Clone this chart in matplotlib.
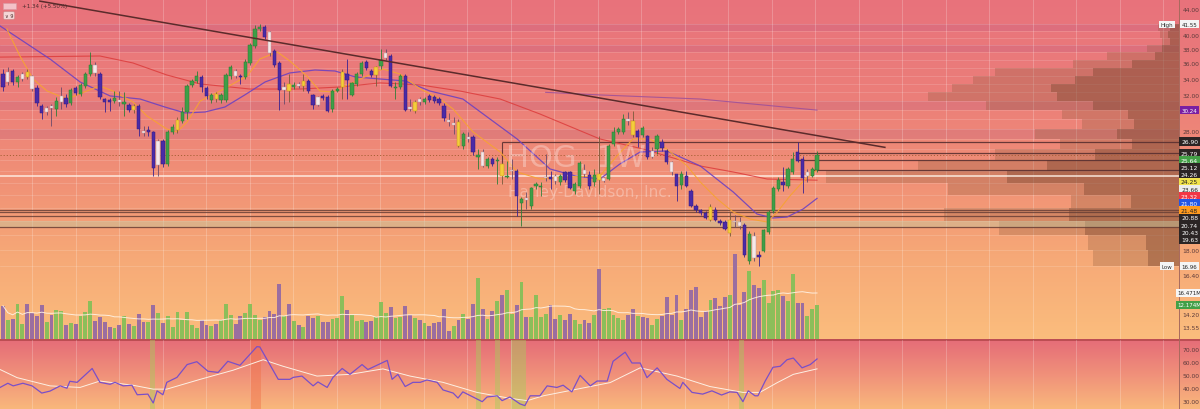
import numpy as np
import pandas as pd
import matplotlib
matplotlib.use("Agg")
import matplotlib.pyplot as plt
from matplotlib.colors import LinearSegmentedColormap
from matplotlib.patches import Rectangle
from matplotlib.ticker import FixedLocator, FormatStrFormatter, NullLocator

# HOG weekly candles, oldest first
opens = [34.58, 33.57, 34.96, 33.57, 33.94, 34.84, 34.32, 32.82, 30.71, 30.03,
         30.71, 30.36, 31.17, 31.63, 31.05, 32.82, 32.10, 33.07, 34.58, 35.75,
         34.58, 31.51, 31.40, 31.28, 31.40, 30.94, 30.82, 30.25, 30.71, 27.99,
         28.09, 27.89, 24.67, 26.97, 24.76, 27.89, 28.09, 29.05, 30.03, 33.20,
         33.69, 34.20, 32.82, 31.40, 32.10, 31.40, 31.40, 34.32, 34.96, 34.32,
         34.20, 36.02, 38.36, 40.85, 41.16, 40.40, 37.65, 36.02, 32.58, 33.32,
         32.95, 33.32, 33.07, 33.69, 31.99, 30.82, 31.87, 31.75, 30.36, 32.46,
         32.95, 34.58, 31.99, 33.32, 34.58, 36.15, 34.96, 34.45, 35.62, 36.69,
         36.96, 32.82, 32.95, 34.32, 30.59, 30.14, 31.51, 31.17, 31.87, 31.75,
         31.51, 30.71, 29.15, 28.62, 28.94, 26.48, 27.37, 27.37, 25.41, 25.89,
         24.58, 25.22, 25.03, 24.76, 23.60, 24.13, 24.13, 21.43, 21.67, 21.19,
         22.82, 22.74, 23.51, 23.60, 23.69, 23.16, 24.04, 24.04, 22.41, 22.82,
         24.22, 23.78, 23.16, 23.87, 23.25, 23.42, 26.67, 27.89, 27.89, 29.26,
         29.05, 27.99, 27.58, 27.48, 25.41, 26.18, 26.87, 25.99, 24.94, 23.87,
         22.91, 23.69, 22.41, 21.19, 20.87, 20.65, 20.11, 20.87, 20.04, 19.97,
         19.17, 20.04, 19.97, 19.75, 17.28, 18.96, 17.67, 17.94, 19.25, 20.80,
         22.57, 23.16, 22.82, 24.04, 25.89, 25.22, 23.69, 23.69, 24.22]
highs = [35.22, 35.49, 35.22, 34.45, 34.84, 35.22, 34.45, 33.20, 30.94, 30.71,
         30.94, 31.75, 32.95, 32.10, 32.82, 33.07, 33.45, 34.84, 37.52, 36.15,
         34.84, 31.62, 31.63, 32.46, 32.46, 32.34, 31.05, 30.94, 30.94, 28.51,
         28.51, 27.99, 27.17, 27.17, 28.09, 28.72, 29.48, 30.59, 33.32, 33.94,
         34.96, 34.45, 33.07, 32.22, 32.34, 32.22, 34.71, 35.75, 35.22, 34.58,
         36.55, 38.80, 41.40, 41.55, 41.40, 40.55, 37.93, 36.28, 33.57, 34.58,
         33.57, 33.57, 34.58, 33.94, 32.10, 31.87, 32.10, 31.99, 32.70, 32.95,
         35.22, 36.55, 33.57, 34.84, 36.28, 36.42, 35.22, 35.62, 37.93, 37.93,
         37.24, 33.57, 34.58, 34.58, 31.51, 31.40, 31.75, 31.75, 32.10, 31.99,
         31.75, 31.05, 29.92, 29.48, 29.26, 27.89, 27.89, 27.58, 26.18, 26.18,
         25.41, 25.41, 25.41, 24.94, 25.03, 25.22, 24.31, 21.91, 22.32, 22.74,
         23.16, 23.16, 25.70, 24.13, 23.87, 23.87, 24.13, 24.13, 23.16, 25.03,
         24.76, 24.13, 24.31, 27.44, 23.60, 26.67, 28.40, 28.40, 29.81, 30.03,
         30.14, 28.19, 28.51, 27.58, 26.37, 27.68, 27.17, 26.18, 25.03, 23.87,
         24.13, 24.13, 22.57, 21.35, 20.95, 20.80, 21.35, 21.11, 20.19, 20.11,
         20.72, 20.49, 20.34, 19.89, 19.32, 19.25, 17.94, 19.46, 20.87, 22.82,
         23.60, 24.49, 24.49, 25.89, 26.87, 25.51, 24.31, 24.49, 25.99]
lows = [32.46, 33.20, 33.20, 32.95, 33.69, 33.94, 32.46, 30.71, 29.26, 29.70,
        28.51, 29.59, 30.36, 30.59, 30.82, 31.99, 31.87, 32.82, 34.32, 34.32,
        31.51, 30.03, 30.14, 31.05, 30.71, 29.59, 30.03, 29.92, 27.48, 27.48,
        27.48, 23.69, 23.69, 24.49, 24.58, 27.68, 27.78, 28.83, 29.26, 32.95,
        33.45, 32.34, 31.51, 31.05, 31.17, 31.05, 31.17, 33.94, 34.07, 33.32,
        33.94, 35.75, 38.07, 40.55, 39.37, 36.96, 35.49, 30.25, 30.94, 31.17,
        32.70, 32.82, 32.46, 32.22, 30.36, 30.71, 31.40, 30.03, 30.03, 32.34,
        31.51, 31.51, 31.87, 33.07, 34.32, 35.09, 34.20, 33.07, 35.22, 36.42,
        32.95, 31.51, 32.70, 30.14, 30.14, 29.92, 30.82, 30.94, 31.17, 31.05,
        30.82, 29.05, 28.51, 27.68, 26.37, 26.18, 26.87, 25.60, 24.31, 24.49,
        24.40, 24.58, 22.99, 22.99, 23.51, 23.42, 20.42, 19.66, 20.95, 20.95,
        22.57, 21.99, 23.25, 22.57, 22.99, 22.91, 23.16, 22.57, 22.16, 22.66,
        23.60, 22.57, 22.82, 22.16, 23.16, 23.34, 26.48, 27.68, 27.68, 28.62,
        27.37, 26.37, 27.37, 25.22, 25.32, 25.70, 25.99, 24.76, 23.78, 21.59,
        22.57, 22.74, 21.11, 20.72, 20.49, 20.19, 20.04, 20.04, 19.75, 19.39,
        18.96, 19.60, 19.46, 17.54, 17.09, 17.28, 16.96, 17.87, 19.11, 20.65,
        22.41, 22.41, 22.66, 23.87, 24.94, 22.24, 23.16, 23.60, 24.04]
closes = [32.95, 34.84, 33.57, 34.20, 34.58, 34.20, 32.70, 31.05, 29.92, 30.48,
          30.48, 31.28, 31.87, 30.94, 32.58, 32.22, 33.20, 34.58, 35.75, 34.71,
          31.75, 31.17, 31.17, 31.63, 31.17, 31.17, 30.25, 30.71, 28.19, 27.78,
          27.89, 24.40, 26.97, 24.76, 27.89, 28.40, 29.15, 30.03, 33.07, 33.69,
          34.32, 32.95, 31.87, 31.99, 31.51, 31.99, 34.45, 35.49, 34.32, 34.20,
          36.15, 38.51, 40.85, 41.16, 39.67, 37.38, 35.75, 32.58, 32.95, 32.46,
          33.20, 33.07, 33.69, 32.46, 30.82, 31.75, 31.63, 30.14, 32.46, 32.70,
          34.84, 33.82, 33.45, 34.58, 36.02, 35.36, 34.45, 35.49, 36.42, 37.38,
          33.07, 32.95, 34.32, 30.25, 30.36, 31.17, 31.17, 31.51, 31.40, 31.28,
          31.05, 29.37, 28.94, 28.83, 26.48, 27.68, 27.17, 25.89, 25.60, 24.58,
          25.22, 24.76, 25.13, 23.69, 23.69, 24.22, 21.99, 21.75, 21.83, 22.66,
          22.99, 22.82, 23.60, 23.42, 23.25, 23.69, 23.34, 22.66, 22.99, 24.85,
          23.87, 22.82, 23.78, 23.34, 23.51, 26.48, 27.89, 28.19, 29.26, 29.05,
          27.58, 27.37, 28.30, 25.41, 25.99, 27.48, 26.28, 24.94, 24.04, 22.82,
          23.87, 22.82, 21.19, 20.87, 20.65, 20.27, 21.11, 20.11, 19.89, 19.46,
          20.11, 19.97, 19.68, 17.67, 19.11, 17.47, 17.54, 19.39, 20.72, 22.66,
          23.34, 22.91, 24.31, 25.22, 25.03, 23.51, 24.04, 24.31, 25.64]
# body colour: G green, P purple, W white, Y yellow
candle_kind = ("PWPGWYWPPW" "WGWPGPGGGW" "PPPGWGPYPW" "PPWPGGYGGG" "GPPGYGGGWP"
               "GGGGPWPPWY" "GWYPPWPPGG" "YPGGGPPYGW" "PGGPWYWGPP" "PPWWYGWPGW"
               "GPGYGWPGWG" "GGWPWGPPGG" "WPGYWGGGGW" "YPGPWGPPWP" "GPPPPPYPPP"
               "YWWPGWPGGG" "GPGGPPWGG")
# volume in millions of shares and bar colour
volumes = [11.9, 6.9, 7.2, 12.6, 5.5, 12.6, 9.3, 8.1, 12.3, 6.0,
           8.7, 10.3, 9.9, 5.1, 5.7, 5.5, 8.4, 9.5, 13.5, 6.3,
           7.9, 6.0, 4.3, 3.9, 5.1, 8.4, 5.5, 4.5, 9.1, 6.0,
           6.0, 12.0, 9.3, 5.7, 8.1, 4.2, 9.5, 6.9, 9.8, 5.1,
           3.9, 6.7, 5.1, 4.5, 5.5, 6.7, 12.5, 8.7, 5.5, 8.4,
           9.3, 12.5, 8.5, 6.9, 7.8, 9.9, 9.1, 19.8, 8.1, 12.6,
           6.3, 5.1, 4.3, 8.1, 7.5, 8.4, 6.0, 6.0, 7.2, 7.5,
           15.5, 10.3, 8.7, 6.6, 6.9, 6.2, 6.6, 7.8, 13.2, 9.3,
           11.5, 7.5, 7.8, 11.7, 8.7, 7.5, 6.7, 5.7, 4.5, 5.7,
           6.1, 10.9, 3.0, 4.8, 6.7, 9.1, 7.3, 12.6, 21.8, 10.7,
           7.2, 10.1, 13.5, 15.9, 17.7, 9.1, 12.3, 20.4, 7.9, 7.9,
           15.9, 7.9, 9.1, 12.3, 7.3, 8.5, 6.7, 8.9, 6.7, 5.5,
           6.7, 5.7, 8.7, 25.2, 10.7, 11.1, 8.7, 7.5, 6.9, 8.5,
           10.9, 8.1, 7.9, 7.5, 4.9, 7.2, 8.4, 14.9, 8.5, 15.6,
           6.9, 10.9, 17.4, 18.5, 7.9, 9.9, 13.8, 14.7, 11.7, 15.0,
           15.9, 30.5, 12.3, 16.7, 24.2, 19.2, 18.3, 21.0, 12.9, 17.1,
           17.4, 15.3, 13.7, 23.14, 12.9, 12.9, 8.1, 10.7, 12.174]
volume_side = ("PGPGGPPPPG" "PGGPGPGGGP" "PPPGPGPGPP" "GPGPGGGGGG" "GPPGPGGGPP"
               "GGGGPPPPGP" "GPGPPGPPGG" "GPGGGPPGGG" "PGGPPGPGPP" "PPPGPGPPGP"
               "GPGPGGPGPG" "GGGPPGPPGG" "PPGPGGGGGP" "PGPPGGPPPP" "GPPPPPGPPP"
               "GPPPGPPGGG" "GPGGPPGGG")

# moving averages read at sample weeks (week index, price)
fast_ma = [(0.8, 40.85), (3.5, 36.96), (6.2, 33.94), (9.1, 32.46), (13.2, 31.51), (17.3, 32.46),
           (20.0, 33.07), (22.7, 32.46), (26.8, 31.17), (29.7, 29.59), (33.8, 28.19), (35.9, 27.89),
           (38.0, 28.94), (40.7, 31.28), (44.8, 32.46), (50.4, 34.32), (53.0, 36.55), (56.6, 37.52),
           (59.2, 36.28), (62.7, 34.32), (65.4, 32.46), (68.1, 32.34), (71.6, 33.32), (75.1, 34.32),
           (78.4, 35.22), (81.9, 34.58), (86.1, 32.70), (90.2, 31.51), (92.9, 30.36), (97.0, 27.89),
           (102.6, 25.89), (106.1, 24.04), (110.8, 23.42), (116.4, 23.60), (123.2, 23.69),
           (126.7, 25.51), (130.0, 27.17), (133.5, 27.17), (137.0, 26.18), (141.2, 24.58),
           (143.9, 23.16), (147.4, 21.75), (150.7, 20.72), (154.2, 20.19), (157.7, 19.97),
           (159.8, 20.72), (162.4, 21.99), (165.1, 23.20), (168.0, 24.25)]
mid_ma = [(-0.6, 41.31), (9.7, 36.55), (15.9, 33.57), (22.1, 31.87), (28.3, 31.51), (33.4, 30.59),
          (37.6, 29.92), (41.7, 30.03), (45.8, 30.59), (49.9, 31.99), (54.1, 33.57), (59.2, 34.71),
          (64.4, 35.09), (68.5, 34.96), (72.7, 34.20), (77.8, 33.94), (83.0, 33.69), (88.1, 32.46),
          (94.9, 31.51), (100.5, 29.26), (106.1, 27.17), (112.9, 24.31), (118.1, 23.69),
          (123.2, 23.42), (127.3, 24.76), (131.5, 25.89), (137.0, 25.99), (143.9, 24.58),
          (150.7, 22.32), (155.6, 20.57), (158.9, 20.27), (161.8, 20.34), (165.1, 20.95), (168.0, 21.80)]
slow_ma = [(-0.6, 36.81), (20.0, 36.96), (26.8, 36.02), (33.8, 34.45), (40.7, 33.32), (51.0, 32.70),
           (61.3, 32.70), (69.6, 32.95), (77.8, 33.45), (86.1, 33.20), (94.3, 32.46), (102.6, 31.51),
           (110.8, 29.81), (123.2, 27.17), (132.1, 26.18), (143.9, 24.58), (150.7, 24.04),
           (157.7, 23.42), (168.0, 23.32)]
long_ma = [(112.0, 32.30), (123.2, 31.99), (143.9, 31.51), (168.0, 30.24)]

# RSI and its signal line, read at sample weeks
rsi_line = [(-0.6, 40.5), (1.0, 43.7), (2.1, 41.7), (4.1, 43.7), (6.0, 41.7), (8.0, 36.2), (9.7, 37.7),
            (11.8, 41.7), (13.2, 39.9), (13.8, 45.2), (15.3, 44.4), (18.4, 55.0), (20.0, 44.4),
            (22.1, 42.9), (23.1, 44.4), (24.8, 41.7), (26.6, 42.2), (27.7, 34.9), (29.9, 35.4),
            (31.0, 28.6), (31.8, 37.9), (33.0, 34.9), (33.8, 44.4), (35.9, 48.2), (38.0, 58.0),
            (40.0, 60.2), (42.3, 52.9), (44.4, 52.0), (46.4, 60.5), (48.9, 57.4), (52.4, 71.7),
            (53.0, 71.5), (56.8, 46.7), (59.2, 46.7), (59.9, 48.2), (61.7, 49.2), (64.0, 41.7),
            (65.0, 44.7), (66.9, 40.5), (68.1, 48.2), (70.0, 55.0), (71.6, 50.5), (74.1, 58.0),
            (75.3, 54.2), (79.3, 61.2), (80.3, 46.7), (81.5, 50.5), (83.0, 41.2), (84.6, 44.4),
            (86.1, 44.4), (87.5, 46.2), (89.6, 44.4), (90.8, 38.6), (92.9, 36.2), (93.9, 32.4),
            (94.9, 37.1), (97.0, 33.2), (98.9, 29.6), (99.9, 33.2), (102.0, 34.1), (103.0, 30.4),
            (104.6, 33.2), (106.7, 27.9), (107.7, 26.6), (108.8, 34.1), (110.8, 34.1), (112.3, 41.7),
            (114.3, 40.5), (115.6, 42.2), (117.4, 37.1), (119.1, 49.7), (121.2, 41.7), (122.6, 45.4),
            (124.7, 45.4), (125.9, 60.5), (128.4, 67.5), (129.8, 59.2), (131.5, 59.2), (132.9, 48.0),
            (135.0, 55.5), (137.0, 46.7), (139.7, 39.7), (140.3, 44.4), (142.2, 36.7), (144.4, 35.4),
            (146.3, 37.9), (148.3, 34.7), (150.0, 37.1), (151.5, 36.7), (152.7, 29.6), (153.8, 37.9),
            (155.2, 34.1), (155.8, 34.1), (157.3, 45.4), (158.9, 55.9), (160.4, 56.7), (161.8, 61.7),
            (163.1, 63.0), (164.9, 55.5), (166.6, 58.0), (168.0, 62.3)]
rsi_signal = [(-0.6, 54.2), (2.9, 48.0), (9.7, 41.7), (15.9, 40.5), (20.0, 45.4), (26.8, 42.2),
              (31.0, 39.2), (33.8, 39.2), (40.7, 46.7), (47.5, 53.7), (53.7, 61.7), (57.8, 56.7),
              (64.8, 49.2), (71.6, 50.5), (78.4, 54.7), (84.0, 49.2), (90.8, 44.4), (97.8, 36.7),
              (104.6, 32.2), (108.2, 30.4), (111.5, 34.1), (118.5, 39.2), (125.3, 44.2), (131.5, 55.5),
              (139.1, 49.2), (145.9, 41.2), (152.7, 36.7), (156.2, 36.7), (159.8, 44.2), (163.1, 50.5),
              (168.0, 54.7)]
oversold_weeks = [(30.4, 31.4), (97.6, 98.6), (101.6, 102.6), (104.8, 108.0), (151.9, 153.0)]
overbought_weeks = [(51.0, 53.2)]

# volume profile, 24 rows between the low and the high
profile_low, profile_high = 16.96, 41.55
profile_total = [86, 91, 180, 235, 108, 231, 353, 261, 184, 119, 144, 97,
                 117, 193, 251, 227, 206, 184, 106, 72, 32, 17, 19, 21]
profile_up = [31, 33, 94, 110, 48, 95, 172, 132, 84, 47, 62, 45,
              51, 86, 122, 128, 104, 86, 47, 24, 17, 9, 11, 9]

# drawn levels
trend_line = [(7.6, 45.3), (182.0, 26.34)]
full_levels = [20.88, 20.74, 20.43, 19.63]
ray_levels = [(26.90, 103), (25.79, 164), (25.12, 164), (24.26, 167)]
white_level = 23.66
last_price = 25.64
tag_prices = [26.90, 25.79, 25.64, 25.12, 24.26, 24.25, 23.66, 23.32, 21.80, 21.48, 20.88, 20.74, 20.43, 19.63]

# ---------------------------------------------------------------- figure
FW, FH = 1200.0, 410.0
fig = plt.figure(figsize=(12, 4.1), dpi=100)
MAIN = [0, 70 / FH, 1179 / FW, 340 / FH]
LOWER = [0, 0, 1179 / FW, 69 / FH]
XL = (-0.62, 242.7)
YL = (12.94, 45.66)

bg = fig.add_axes([0, 0, 1, 1], zorder=0)
bg.set_axis_off()
bg.set_xlim(0, 1)
bg.set_ylim(0, 1)
grad = np.linspace(0, 1, 256)[:, None]
main_cm = LinearSegmentedColormap.from_list("main", [(0, "#e8727c"), (0.3, "#ec7f79"), (0.55, "#f19276"),
                                                     (0.75, "#f6a877"), (1, "#fbbd7d")])
low_cm = LinearSegmentedColormap.from_list("low", [(0, "#e56c78"), (0.5, "#f0907a"), (1, "#f9b87c")])
bg.imshow(grad, cmap=main_cm, aspect="auto", extent=[0, 1, 70 / FH, 1], origin="upper")
bg.imshow(grad, cmap=low_cm, aspect="auto", extent=[0, 1, 0, 70 / FH], origin="upper")
bg.axhline(69.5 / FH, color="#b4484c", lw=1.2)

n = len(closes)
xi = np.arange(n)
grid_x = np.arange(6.0, 243, 8.98)

# grid, heat rows
axg = fig.add_axes(MAIN, zorder=1)
axg.set_axis_off()
axg.set_yscale("log")
axg.set_xlim(*XL)
axg.set_ylim(*YL)
bin_w = (profile_high - profile_low) / len(profile_total)
edges = profile_low + bin_w * np.arange(len(profile_total) + 1)
for e in edges:
    axg.axhline(e, color="white", lw=0.5, alpha=0.2)
for b in [10, 13, 20, 23]:
    axg.axhspan(edges[b], edges[b + 1], color="#8e3f8e", alpha=0.13, lw=0)
for gx in grid_x:
    axg.axvline(gx, color="white", lw=0.6, alpha=0.25)

# volume
axv = fig.add_axes(MAIN, zorder=2)
axv.set_axis_off()
axv.set_xlim(*XL)
axv.set_ylim(0, 121.7)
vcol = {"G": "#8cbe5a", "P": "#9b6ea0"}
axv.bar(xi, volumes, width=0.8, color=[vcol[k] for k in volume_side], lw=0)
vol_ma = pd.Series(volumes).rolling(20, min_periods=1).mean()
axv.plot(xi, vol_ma, color="#fff3e6", lw=0.7, alpha=0.9)

# volume profile anchored on the right
axp = fig.add_axes(MAIN, zorder=2)
axp.set_axis_off()
axp.set_yscale("log")
axp.set_ylim(*YL)
axp.set_xlim(max(profile_total) / 0.2994, 0)
axp.barh(edges[:-1], profile_total, height=bin_w, align="edge", color="#8b5a3c", alpha=0.28, lw=0)
axp.barh(edges[:-1], profile_up, height=bin_w, align="edge", color="#7a4630", alpha=0.4, lw=0)

# price pane
ax = fig.add_axes(MAIN, zorder=3)
ax.patch.set_alpha(0)
ax.set_yscale("log")
ax.set_xlim(*XL)
ax.set_ylim(*YL)
ax.yaxis.tick_right()
ax.yaxis.set_major_locator(FixedLocator([44, 40, 38, 36, 34, 32, 28, 18, 16.4, 14.2, 13.55]))
ax.yaxis.set_major_formatter(FormatStrFormatter("%.2f"))
ax.yaxis.set_minor_locator(NullLocator())
ax.tick_params(axis="y", length=0, labelsize=4.3, labelcolor="#5b3a3a", pad=2.5)
ax.set_xticks([])
ax.spines["left"].set_visible(False)
ax.spines["bottom"].set_visible(False)
ax.spines["right"].set_color("#a86a5e")
ax.spines["right"].set_linewidth(0.7)
ax.spines["top"].set_color("#5a2a2a")
ax.spines["top"].set_linewidth(1.2)

ax.axhspan(19.63, 20.07, color="#c4c8a0", alpha=0.45, lw=0)
for lv in full_levels:
    ax.axhline(lv, color="#6a4036", lw=0.9, alpha=0.85)
for lv, start in ray_levels:
    ax.hlines(lv, start, XL[1], color="#5a3030", lw=0.9, alpha=0.9)
ax.vlines(ray_levels[0][1], 24.0, ray_levels[0][0], color="#5a3030", lw=0.8, alpha=0.9)
ax.axhline(white_level, color="#fff4ea", lw=1.1, alpha=0.9)
ax.axhline(last_price, color="#a86036", lw=0.7, ls=(0, (1.2, 2.0)))

tx, ty = zip(*trend_line)
ax.plot(tx, ty, color="#5b2b2b", lw=1.1, zorder=6)

for pts, col, lw, al in [(long_ma, "#9b4f9b", 0.8, 0.85), (slow_ma, "#dc3c3c", 0.8, 0.85),
                         (mid_ma, "#6e42c0", 0.9, 0.9), (fast_ma, "#f6a234", 0.8, 0.95)]:
    mx, my = zip(*pts)
    ax.plot(mx, my, color=col, lw=lw, alpha=al, zorder=3)

body_fc = {"G": "#3f9e47", "P": "#4b2aa6", "W": "#f6e8e8", "Y": "#f4cd3c"}
body_ec = {"G": "#2a7a33", "P": "#2f1a80", "W": "#b89aa0", "Y": "#c8961e"}
wick_c = {"G": "#2f7d37", "P": "#3a2290", "W": "#6b4a6a", "Y": "#7a5a3a"}
o = np.array(opens)
c = np.array(closes)
ax.vlines(xi, lows, highs, colors=[wick_c[k] for k in candle_kind], lw=0.6, zorder=4)
ax.bar(xi, np.abs(c - o), bottom=np.minimum(o, c), width=0.68,
       color=[body_fc[k] for k in candle_kind], edgecolor=[body_ec[k] for k in candle_kind],
       lw=0.35, zorder=5)

ax.text(0.488, 0.535, "HOG, 1W", transform=ax.transAxes, fontsize=22, color="white",
        alpha=0.3, ha="center", va="center")
ax.text(0.50, 0.435, "Harley-Davidson, Inc.", transform=ax.transAxes, fontsize=11,
        color="white", alpha=0.3, ha="center", va="center")

# RSI pane
ar = fig.add_axes(LOWER, zorder=3)
ar.patch.set_alpha(0)
ar.set_xlim(*XL)
ar.set_ylim(24, 76.8)
ar.yaxis.tick_right()
ar.set_yticks([70, 60, 50, 40, 30])
ar.yaxis.set_major_formatter(FormatStrFormatter("%.2f"))
ar.tick_params(axis="y", length=0, labelsize=4.3, labelcolor="#5b3a3a", pad=2.5)
ar.set_xticks([])
for s in ["left", "bottom", "top"]:
    ar.spines[s].set_visible(False)
ar.spines["right"].set_color("#a86a5e")
ar.spines["right"].set_linewidth(0.7)
for gx in grid_x:
    ar.axvline(gx, color="white", lw=0.6, alpha=0.25)
for a, b in oversold_weeks:
    ar.axvspan(a, b, color="#a6cc5c", alpha=0.45, lw=0)
for a, b in overbought_weeks:
    ar.axvspan(a, b, color="#f07048", alpha=0.45, lw=0)
sx, sy = zip(*rsi_signal)
ar.plot(sx, sy, color="#fdf0e4", lw=0.7)
rx, ry = zip(*rsi_line)
ar.plot(rx, ry, color="#7a4fc8", lw=0.9)

# right-hand price tags, pushed apart so they don't overlap
fig_h = fig.bbox.height
tag_fc = ["#2b2424", "#2b2424", "#43a047", "#2b2424", "#2b2424", "#f2e34c", "#ececec",
          "#f23645", "#2255e6", "#ff9a1f", "#2b2424", "#2b2424", "#2b2424", "#2b2424"]
tag_tc = ["white", "white", "white", "white", "white", "#222222", "#222222",
          "white", "white", "#222222", "white", "white", "white", "white"]
disp_y = ax.transData.transform(np.column_stack([np.zeros(len(tag_prices)), tag_prices]))[:, 1]
placed = []
for yv in disp_y:
    if placed and yv > placed[-1] - 7.2:
        yv = placed[-1] - 7.2
    placed.append(yv)
col_x = 1189.5 / FW
for p, yv, fc, tc in zip(tag_prices, placed, tag_fc, tag_tc):
    fig.text(col_x, yv / fig_h, f"{p:.2f}", ha="center", va="center", fontsize=4.3, color=tc,
             zorder=10, bbox=dict(boxstyle="square,pad=0.28", fc=fc, ec="none"))


def side_tag(axes, value, label, fc, tc, word=None):
    yv = axes.transData.transform((0, value))[1] / fig_h
    fig.text(col_x, yv, label, ha="center", va="center", fontsize=4.0, color=tc, zorder=10,
             bbox=dict(boxstyle="square,pad=0.28", fc=fc, ec="none"))
    if word:
        fig.text(1167 / FW, yv, word, ha="center", va="center", fontsize=4.0, color="#333333",
                 zorder=10, bbox=dict(boxstyle="square,pad=0.25", fc="#f4f4f4", ec="none"))


side_tag(ax, max(highs), f"{max(highs):.2f}", "#f4f4f4", "#222222", "High")
side_tag(ax, min(lows), f"{min(lows):.2f}", "#f4f4f4", "#222222", "Low")
side_tag(ax, 30.24, "30.24", "#7b1fa2", "white")
side_tag(axv, vol_ma.iloc[-1], f"{vol_ma.iloc[-1]:.3f}M", "#f6f6f6", "#222222")
side_tag(axv, volumes[-1], f"{volumes[-1]:.3f}M", "#43a047", "white")

# header
fig.add_artist(Rectangle((3 / FW, 1 - 10 / FH), 13 / FW, 6 / FH, transform=fig.transFigure,
                         fc="#f3c2c8", ec="#d89aa4", lw=0.4, zorder=10))
fig.text(22 / FW, 1 - 6.5 / FH, "+1.34 (+5.50%)", fontsize=4.0, color="#4a2c2c", va="center", zorder=10)
fig.text(9 / FW, 1 - 16.5 / FH, "\u2228 9", fontsize=3.6, color="#4a2c2c", ha="center", va="center",
         zorder=10, bbox=dict(boxstyle="round,pad=0.25", fc="#f4d6d6", ec="#c89090", lw=0.4))

fig.savefig("out.png", dpi=100)
